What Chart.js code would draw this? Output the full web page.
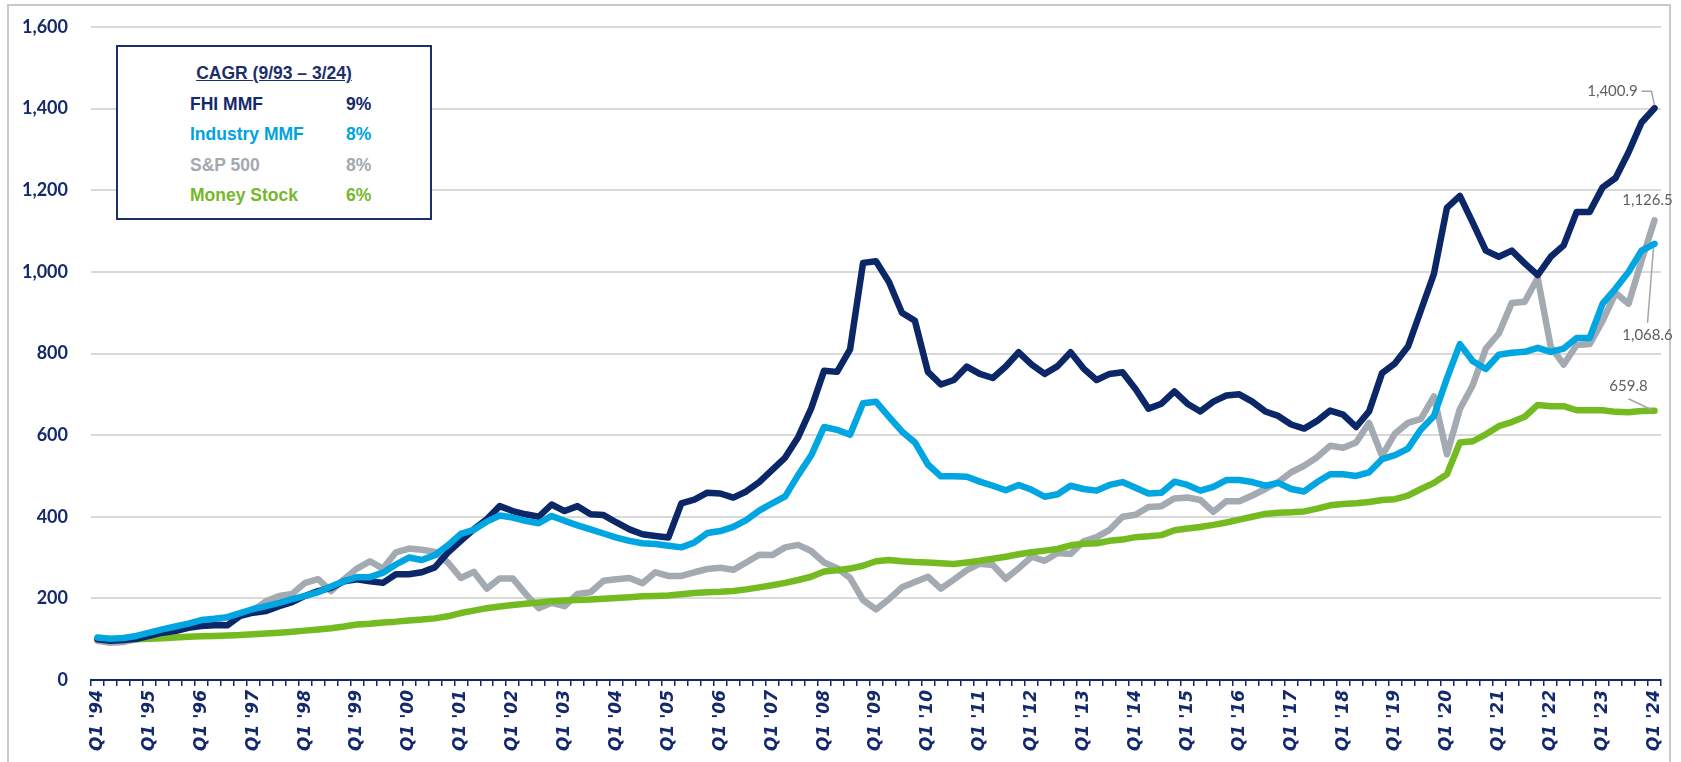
<!DOCTYPE html>
<html>
<head>
<meta charset="utf-8">
<script src="https://cdn.jsdelivr.net/npm/chart.js@4.4.1/dist/chart.umd.min.js"></script>
<style>
html,body{margin:0;padding:0;background:#fff;}
#wrap{position:relative;width:1681px;height:762px;overflow:hidden;background:#fff;}
#frame{position:absolute;left:7px;top:4px;width:1664px;height:820px;border:2px solid #C9C9C9;box-sizing:border-box;}
#c{position:absolute;left:0;top:0;}
#cagr{position:absolute;left:116px;top:45px;width:316px;height:175px;box-sizing:border-box;border:2px solid #1B2F6B;background:#fff;font-family:"Liberation Sans",Arial,sans-serif;font-weight:bold;font-size:17.5px;}
#cagr .t{position:absolute;left:0;width:100%;text-align:center;top:16px;height:20px;line-height:20px;color:#1B2F6B;text-decoration:underline;}
#cagr .r{position:absolute;height:20px;line-height:20px;white-space:nowrap;}
</style>
</head>
<body>
<div id="wrap">
  <div id="frame"></div>
  <canvas id="c" width="1681" height="762"></canvas>
  <div id="cagr"></div>
</div>
<script>
// ---- data ----
const years = [];
for (let y = 1994; y <= 2024; y++) years.push(y);
const quarters = [];
years.forEach(y => { for (let q = 1; q <= 4; q++) { if (y === 2024 && q > 1) break; quarters.push('Q' + q + " '" + String(y).slice(2)); } });

const fhiMMF = [
  100, 96, 98, 101, 108, 116, 120, 128, 132, 134, 134, 157, 165, 169, 181, 191, 206, 218, 226, 242, 247, 242, 238, 259,
  259, 264, 276, 312, 341, 369, 394, 426, 414, 406, 400, 430, 414, 426, 406, 404, 386, 369, 357, 353, 349, 433, 442, 459, 457,
  447, 462, 485, 515, 545, 595, 665, 758, 755, 810, 1022, 1026, 975, 900, 880, 755, 724, 735, 768, 750, 740, 768, 803, 773, 750,
  769, 803, 763, 735, 750, 754, 713, 665, 677, 707, 677, 658, 682, 697, 700, 682, 658, 647, 626, 616, 635, 660, 650, 620,
  658, 752, 776, 817, 906, 995, 1157, 1186, 1120, 1052, 1037, 1052, 1021, 992, 1037, 1065, 1147, 1147, 1207, 1230, 1293, 1366, 1400.9
];
const industryMMF = [
  104, 101, 103, 108, 116, 124, 131, 138, 147, 150, 154, 164, 174, 181, 189, 198, 206, 215, 229, 242, 252, 252, 263, 283,
  300, 294, 306, 330, 358, 368, 388, 403, 398, 390, 384, 402, 390, 379, 369, 359, 349, 341, 335, 333, 329, 325, 337, 360, 365,
  375, 392, 415, 433, 450, 502, 550, 620, 613, 601, 678, 682, 645, 609, 582, 528, 499, 499, 498, 486, 476, 465, 478, 466, 449,
  455, 476, 468, 464, 478, 485, 471, 457, 459, 486, 478, 464, 473, 490, 490, 485, 476, 483, 468, 462, 485, 504, 504, 500,
  509, 541, 551, 567, 614, 647, 739, 823, 781, 762, 797, 802, 804, 814, 804, 812, 838, 838, 922, 959, 1000, 1052, 1068.6
];
const sp500 = [
  96, 91, 93, 100, 106, 116, 124, 132, 140, 147, 153, 161, 171, 193, 206, 211, 238, 247, 218, 247, 273, 291, 273, 313,
  322, 319, 314, 288, 250, 265, 224, 249, 249, 211, 176, 189, 181, 211, 215, 243, 247, 250, 237, 264, 255, 255, 264, 272, 275,
  270, 288, 307, 306, 325, 331, 316, 288, 274, 250, 196, 173, 198, 227, 240, 253, 224, 246, 269, 285, 282, 248, 274, 302, 292,
  311, 309, 340, 350, 368, 400, 405, 424, 426, 445, 447, 441, 412, 438, 438, 452, 468, 485, 509, 525, 546, 574, 569, 582,
  630, 549, 604, 630, 640, 695, 553, 664, 723, 812, 849, 924, 927, 985, 817, 773, 821, 823, 880, 948, 922, 1027, 1126.5
];
const moneyStock = [
  100, 99, 99, 100, 101, 102, 104, 106, 107, 108, 109, 110, 112, 114, 116, 118, 121, 124, 127, 131,
  136, 138, 141, 143, 146, 148, 151, 156, 164, 170, 176, 180, 184, 187, 190, 193, 195, 196, 197, 199, 201, 203, 205, 206, 207, 210, 213, 215, 216,
  218, 222, 227, 232, 238, 245, 253, 266, 269, 273, 280, 291, 294, 291, 289, 288, 286, 284, 288, 292, 297, 302, 308, 313, 317,
  321, 330, 334, 335, 341, 344, 350, 352, 355, 367, 371, 375, 380, 386, 393, 400, 407, 410, 411, 413, 420, 428, 431, 433,
  436, 441, 443, 452, 468, 483, 504, 582, 585, 602, 622, 632, 645, 674, 671, 671, 661, 661, 661, 657, 656, 659, 659.8
];
const yTicks = [0, 200, 400, 600, 800, 1000, 1200, 1400, 1600];
const seriesNames = ['FHI MMF', 'Industry MMF', 'S&P 500', 'Money Stock'];
const cagr = ['9%', '8%', '8%', '6%'];
const cagrTitle = 'CAGR (9/93 \u2013 3/24)';
const endLabels = ['1,400.9', '1,068.6', '1,126.5', '659.8'];

// ---- styles ----
const NAVY = '#13296B';
const colors = ['#0C2768', '#00A6E2', '#A4AAB2', '#74BB21'];
const textColors = ['#13296B', '#00A3E0', '#A3A9B1', '#76B82A'];

// CAGR box (HTML text)
const box = document.getElementById('cagr');
const t = document.createElement('div'); t.className = 't'; t.textContent = cagrTitle; box.appendChild(t);
const rowTops = [47, 77, 108, 138];
seriesNames.forEach((n, i) => {
  const a = document.createElement('div'); a.className = 'r'; a.textContent = n;
  a.style.left = '72px'; a.style.top = rowTops[i] + 'px'; a.style.color = textColors[i]; box.appendChild(a);
  const b = document.createElement('div'); b.className = 'r'; b.textContent = cagr[i];
  b.style.left = '228px'; b.style.top = rowTops[i] + 'px'; b.style.color = textColors[i]; box.appendChild(b);
});

// end label offsets relative to last point: text center dx,dy; leader polyline
const labelStyle = [
  { dx: -42, dy: -17, leader: [[-13, -17], [-3, -17], [0, -3]] },
  { dx: -7, dy: 91, leader: [[-7, 79], [-1, 4]] },
  { dx: -7, dy: -20, leader: null },
  { dx: -26, dy: -25, leader: [[-26, -12], [-3, -1]] }
];

const endLabelPlugin = {
  id: 'endLabels',
  afterDatasetsDraw(chart) {
    const ctx = chart.ctx;
    ctx.save();
    chart.data.datasets.forEach((ds, di) => {
      const meta = chart.getDatasetMeta(di);
      const p = meta.data[meta.data.length - 1];
      const s = labelStyle[di];
      ctx.font = '15px Lato, "Open Sans", sans-serif';
      ctx.fillStyle = '#5F5F5F';
      ctx.textAlign = 'center';
      ctx.textBaseline = 'middle';
      ctx.fillText(endLabels[di], p.x + s.dx, p.y + s.dy);
      if (s.leader) {
        ctx.strokeStyle = '#A6A6A6';
        ctx.lineWidth = 1.5;
        ctx.beginPath();
        s.leader.forEach((pt, k) => { const X = p.x + pt[0], Y = p.y + pt[1]; if (k === 0) ctx.moveTo(X, Y); else ctx.lineTo(X, Y); });
        ctx.stroke();
      }
    });
    ctx.restore();
  }
};

const seriesData = [fhiMMF, industryMMF, sp500, moneyStock];
const drawOrder = [1, 0, 3, 2];

new Chart(document.getElementById('c'), {
  type: 'line',
  data: {
    labels: quarters,
    datasets: seriesNames.map((n, i) => ({
      label: n,
      data: seriesData[i],
      borderColor: colors[i],
      backgroundColor: colors[i],
      borderWidth: 6.5,
      pointRadius: 0,
      tension: 0,
      fill: false,
      borderJoinStyle: 'round',
      borderCapStyle: 'round',
      order: drawOrder[i]
    }))
  },
  options: {
    responsive: false,
    animation: false,
    devicePixelRatio: 1,
    layout: { padding: { left: 0, right: 20, top: 27, bottom: 0 } },
    plugins: { legend: { display: false }, tooltip: { enabled: false } },
    scales: {
      x: {
        type: 'category',
        offset: true,
        grid: { offset: true, drawOnChartArea: false, drawTicks: true, tickLength: 6, color: NAVY, lineWidth: 1.5 },
        border: { display: true, color: NAVY, width: 2 },
        ticks: {
          autoSkip: false, maxRotation: 90, minRotation: 90, padding: 4, color: NAVY,
          font: { family: '"DejaVu Sans"', style: 'italic', weight: 'bold', size: 17 },
          callback: function (v, idx) { return idx % 4 === 0 ? this.getLabelForValue(v) : ''; }
        },
        afterFit(s) { s.height = 82; }
      },
      y: {
        min: yTicks[0], max: yTicks[yTicks.length - 1],
        afterBuildTicks(s) { s.ticks = yTicks.map(v => ({ value: v })); },
        grid: { color: '#D9D9D9', lineWidth: 2, drawTicks: true, tickLength: 23, tickColor: 'rgba(0,0,0,0)' },
        border: { display: false },
        ticks: {
          padding: 0, color: NAVY,
          font: { family: 'Lato', weight: 'bold', size: 18 },
          callback: v => v.toLocaleString('en-US')
        },
        afterFit(s) { s.width = 91; }
      }
    }
  },
  plugins: [endLabelPlugin]
});
</script>
</body>
</html>
